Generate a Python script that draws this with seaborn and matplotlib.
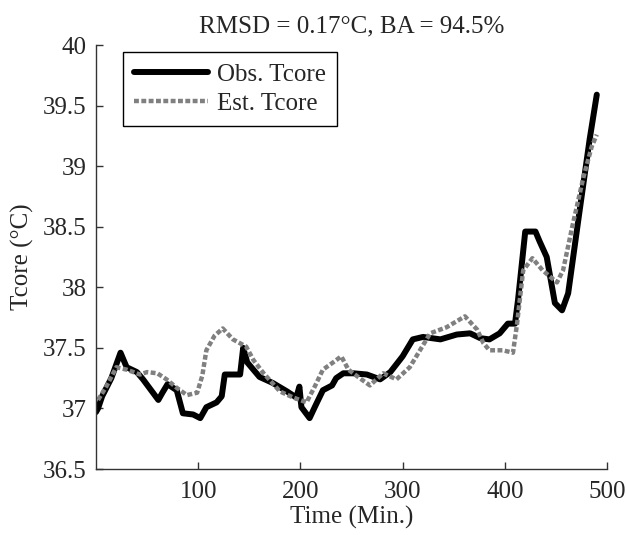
import pandas as pd
import numpy as np
import matplotlib
matplotlib.use("Agg")
import matplotlib.pyplot as plt
import seaborn as sns
from matplotlib.ticker import FuncFormatter

# ---- data ----
obs_time = [0, 2, 6, 15, 24, 30, 40, 46, 61, 65, 70, 79, 85, 95, 102, 108,
            118, 123, 126, 134, 141, 144, 148, 160, 173, 187, 196, 199, 201,
            209, 214, 222, 231, 235, 242, 252, 265, 278, 288, 300, 310, 320,
            337, 353, 366, 376, 385, 395, 403, 410, 413, 420, 430, 434, 441,
            449, 456, 462, 473, 483, 490]
obs_temp = [36.97, 37.00, 37.10, 37.25, 37.46, 37.34, 37.30, 37.24, 37.07,
            37.13, 37.20, 37.15, 36.96, 36.95, 36.92, 37.01, 37.05, 37.10,
            37.28, 37.28, 37.28, 37.50, 37.38, 37.26, 37.21, 37.14, 37.09,
            37.18, 37.01, 36.92, 37.01, 37.15, 37.19, 37.25, 37.29, 37.29,
            37.28, 37.24, 37.30, 37.43, 37.57, 37.59, 37.57, 37.61, 37.62,
            37.58, 37.57, 37.62, 37.70, 37.70, 37.90, 38.46, 38.46, 38.38,
            38.25, 37.87, 37.81, 37.95, 38.62, 39.22, 39.59]

est_time = [2, 10, 20, 30, 43, 50, 60, 69, 79, 89, 99, 104, 108, 116, 124,
            134, 147, 154, 164, 180, 193, 206, 214, 222, 232, 240, 247, 258,
            268, 281, 294, 307, 317, 327, 343, 361, 373, 379, 385, 398, 408,
            412, 418, 427, 437, 451, 457, 466, 477, 485, 490]
est_temp = [37.07, 37.18, 37.34, 37.32, 37.28, 37.30, 37.29, 37.24, 37.17,
            37.11, 37.13, 37.27, 37.48, 37.60, 37.66, 37.57, 37.51, 37.40,
            37.29, 37.14, 37.09, 37.05, 37.18, 37.32, 37.38, 37.43, 37.32,
            37.25, 37.19, 37.29, 37.24, 37.34, 37.48, 37.62, 37.67, 37.76,
            37.65, 37.54, 37.48, 37.48, 37.46, 37.70, 38.14, 38.24, 38.14,
            38.04, 38.14, 38.50, 38.91, 39.16, 39.26]

x_ticks = [100, 200, 300, 400, 500]
y_ticks = [36.5, 37, 37.5, 38, 38.5, 39, 39.5, 40]

obs = pd.DataFrame({"Time": obs_time, "Tcore": obs_temp})
est = pd.DataFrame({"Time": est_time, "Tcore": est_temp})

# ---- style ----
sns.set_style("ticks")
plt.rcParams["font.family"] = ["Liberation Serif", "DejaVu Serif"]
plt.rcParams["xtick.direction"] = "in"
plt.rcParams["ytick.direction"] = "in"

fig = plt.figure(figsize=(6.26, 5.35), dpi=100)
ax = fig.add_axes([96 / 626, 1 - 469 / 535, 511 / 626, 424 / 535])

sns.lineplot(data=obs, x="Time", y="Tcore", ax=ax, color="black",
             linewidth=4.3, label="Obs. Tcore", sort=False)
sns.lineplot(data=est, x="Time", y="Tcore", ax=ax, color="#808080",
             linewidth=3.2, linestyle=(0, (1.1, 0.55)), label="Est. Tcore",
             sort=False)

ax.set_xlim(0, 500)
ax.set_ylim(36.5, 40)
ax.set_xticks(x_ticks)
ax.set_yticks(y_ticks)
ax.yaxis.set_major_formatter(FuncFormatter(lambda v, p: f"{v:g}"))
ax.tick_params(labelsize=18, length=5, width=1, color="#333333")
ax.tick_params(axis="x", pad=9)
ax.tick_params(axis="y", pad=7)

for side in ["top", "right"]:
    ax.spines[side].set_visible(False)
for side in ["left", "bottom"]:
    ax.spines[side].set_color("#333333")
    ax.spines[side].set_linewidth(1.0)

ax.set_xlabel("Time (Min.)", fontsize=18, labelpad=2)
ax.set_ylabel("Tcore (°C)", fontsize=18, labelpad=6)
ax.set_title("RMSD = 0.17°C, BA = 94.5%", fontsize=18, pad=9)

leg = ax.legend(loc="upper left", bbox_to_anchor=(0.053, 0.983),
                borderaxespad=0, fontsize=18, frameon=True, fancybox=False,
                handlelength=2.95, handletextpad=0.36, borderpad=0.45,
                labelspacing=0.25)
leg.get_frame().set_edgecolor("black")
leg.get_frame().set_linewidth(1.0)
leg.get_frame().set_alpha(1)

fig.savefig("out.png", dpi=100)
